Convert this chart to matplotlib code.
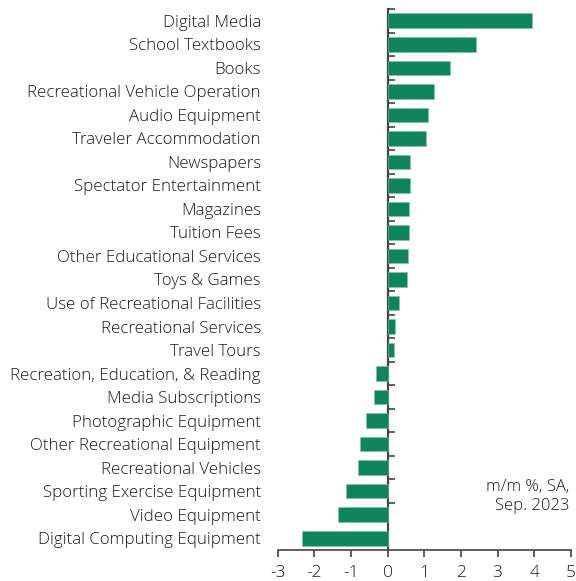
import matplotlib.pyplot as plt
import numpy as np

plt.rcParams['font.family'] = ['Open Sans', 'DejaVu Sans']
plt.rcParams['axes.unicode_minus'] = False

categories = [
    "Digital Media", "School Textbooks", "Books", "Recreational Vehicle Operation",
    "Audio Equipment", "Traveler Accommodation", "Newspapers", "Spectator Entertainment",
    "Magazines", "Tuition Fees", "Other Educational Services", "Toys & Games",
    "Use of Recreational Facilities", "Recreational Services", "Travel Tours",
    "Recreation, Education, & Reading", "Media Subscriptions", "Photographic Equipment",
    "Other Recreational Equipment", "Recreational Vehicles", "Sporting Exercise Equipment",
    "Video Equipment", "Digital Computing Equipment",
]
values = [3.95, 2.41, 1.71, 1.27, 1.10, 1.04, 0.61, 0.60, 0.59, 0.58, 0.55, 0.53,
          0.30, 0.20, 0.17, -0.32, -0.36, -0.59, -0.74, -0.82, -1.14, -1.36, -2.34]

bar_color = "#10845c"
axis_color = "#444444"
text_color = "#1a1a1a"

fig = plt.figure(figsize=(5.76, 5.81), dpi=100)
ax = fig.add_axes([0.482, 0.0534, 0.509, 0.9311])

pos = np.arange(len(categories))
ax.barh(pos, values, height=0.62, color=bar_color, edgecolor="#7fc3a8", linewidth=0.4)

ax.set_xlim(-3, 5)
ax.set_ylim(len(categories) - 0.5, -0.5)
ax.set_xticks(range(-3, 6))
ax.tick_params(axis="x", direction="out", length=5, width=1.2, color=axis_color,
               labelsize=12.5, pad=6, labelcolor=text_color)
for lbl in ax.get_xticklabels():
    lbl.set_fontweight("light")

ax.set_yticks(pos)
ax.set_yticklabels(categories, fontsize=12.2, color=text_color, fontweight="light")
ax.tick_params(axis="y", length=0, pad=12)

for s in ["top", "right", "left"]:
    ax.spines[s].set_visible(False)
ax.spines["bottom"].set_color(axis_color)
ax.spines["bottom"].set_linewidth(1.2)

# vertical axis line at zero with ticks between categories
sec = ax.secondary_yaxis(3 / 8)
sec.set_yticks(np.arange(len(categories) - 1) - 0.5)
sec.set_yticklabels([])
sec.tick_params(direction="in", length=5, width=1.2, color=axis_color)
sec.spines["left"].set_color(axis_color)
sec.spines["left"].set_linewidth(1.6)

ax.text(0.995, 0.099, "m/m %, SA,\nSep. 2023", transform=ax.transAxes,
        ha="right", va="center", fontsize=12, color=text_color, linespacing=1.25,
        fontweight="light")

fig.savefig("out.png", dpi=100)
